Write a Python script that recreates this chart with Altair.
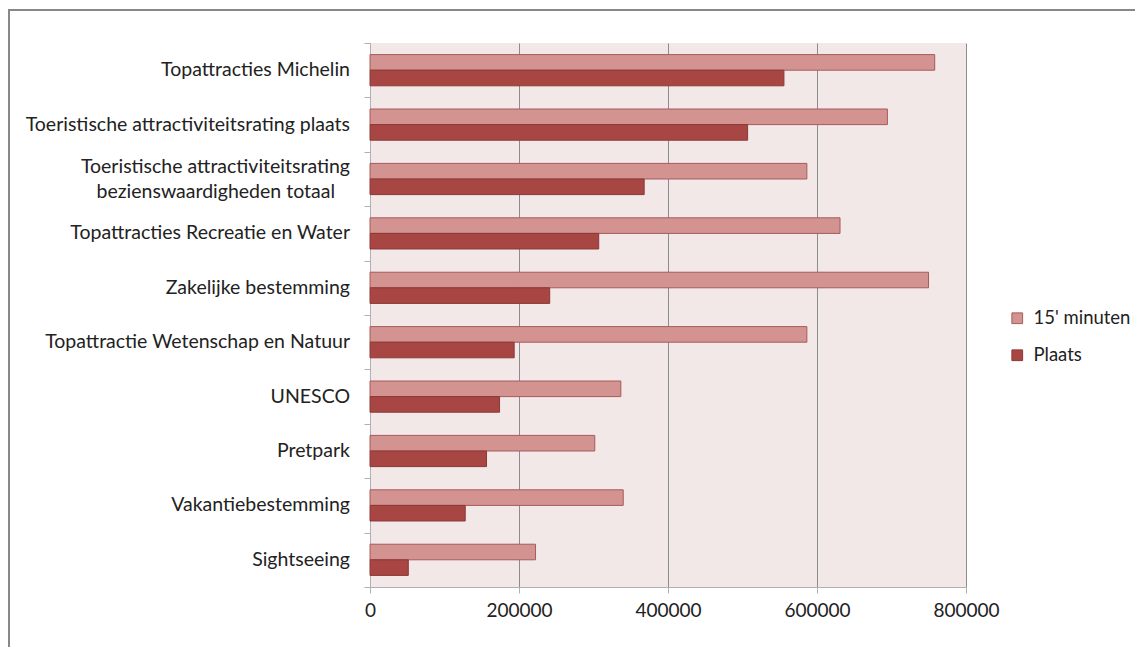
import altair as alt
import pandas as pd

categories = [
    "Topattracties Michelin",
    "Toeristische attractiviteitsrating plaats",
    "Toeristische attractiviteitsrating\nbezienswaardigheden totaal",
    "Topattracties Recreatie en Water",
    "Zakelijke bestemming",
    "Topattractie Wetenschap en Natuur",
    "UNESCO",
    "Pretpark",
    "Vakantiebestemming",
    "Sightseeing",
]
series = ["15' minuten", "Plaats"]
minuten15 = [758000, 694500, 586400, 630900, 749700, 586400, 336700, 301700, 339900, 222200]
plaats = [555600, 506900, 368000, 307000, 241200, 193500, 173900, 156400, 127800, 51400]
x_ticks = [0, 200000, 400000, 600000, 800000]

rows = []
for c, a, b in zip(categories, minuten15, plaats):
    rows.append({"cat": c, "series": series[0], "value": a})
    rows.append({"cat": c, "series": series[1], "value": b})
df = pd.DataFrame(rows)

# one row per label line, for the category labels drawn as text
label_rows = []
for c in categories:
    parts = c.split("\n")
    n = len(parts)
    for i, p in enumerate(parts):
        label_rows.append({"cat": c, "text": p, "line": i - (n - 1) / 2})
labels_df = pd.DataFrame(label_rows)

FONT = "Lato"
FS = 19.5
LH = 25
W, H = 596, 544

legend_cfg = dict(title=None, orient="none", legendX=638, legendY=266,
                  symbolType="square", symbolSize=115, symbolStrokeWidth=1,
                  labelFontSize=18.5, labelFont=FONT, labelColor="#222222",
                  labelOffset=7, rowPadding=18)

y_enc = alt.Y("cat:N", sort=categories, title=None,
              scale=alt.Scale(paddingInner=0, paddingOuter=0),
              axis=alt.Axis(labels=False, tickBand="extent", tickSize=6,
                            tickColor="#b0b0b0", domainColor="#b0b0b0", grid=False))

bars = alt.Chart(df).mark_bar(strokeWidth=1).encode(
    y=y_enc,
    yOffset=alt.YOffset("series:N", sort=series,
                        scale=alt.Scale(paddingInner=0, paddingOuter=0.744)),
    x=alt.X("value:Q", title=None, scale=alt.Scale(domain=[0, 800000], nice=False),
            axis=alt.Axis(values=x_ticks, format="d", labelFontSize=19, labelFont=FONT,
                          labelColor="#222222", labelPadding=8, labelFlush=False,
                          tickSize=6, tickColor="#b0b0b0", domainColor="#b0b0b0",
                          grid=True, gridColor="#8c8c8c", gridWidth=1)),
    fill=alt.Fill("series:N", sort=series,
                  scale=alt.Scale(domain=series, range=["#D39391", "#A84644"]),
                  legend=alt.Legend(**legend_cfg)),
    stroke=alt.Stroke("series:N", sort=series,
                      scale=alt.Scale(domain=series, range=["#A85A5A", "#8C3836"]),
                      legend=alt.Legend(**legend_cfg)),
)

def label_layer(line_val, dx=0):
    return alt.Chart(labels_df).transform_filter(
        alt.datum.line == line_val
    ).mark_text(align="right", baseline="middle", font=FONT, fontSize=FS,
                color="#222222", dy=line_val * LH, dx=dx).encode(
        y=alt.Y("cat:N", sort=categories),
        x=alt.value(-20),
        text="text:N",
    )

border = alt.Chart(alt.Data(values=[{"a": 1}])).mark_rect(
    fill=None, stroke="#888888", strokeWidth=2, clip=False
).encode(
    x=alt.value(-361), x2=alt.value(800), y=alt.value(-33), y2=alt.value(700)
)

chart = alt.layer(border, bars, label_layer(0), label_layer(-0.5),
                  label_layer(0.5, dx=-15)).properties(
    width=W, height=H,
    autosize=alt.AutoSizeParams(type="none"),
    padding={"left": 362, "top": 35, "right": 169, "bottom": 60},
).configure_view(fill="#F2E8E8", stroke=None)

chart.save("out.html", embed_options={"renderer": "svg", "actions": False})
